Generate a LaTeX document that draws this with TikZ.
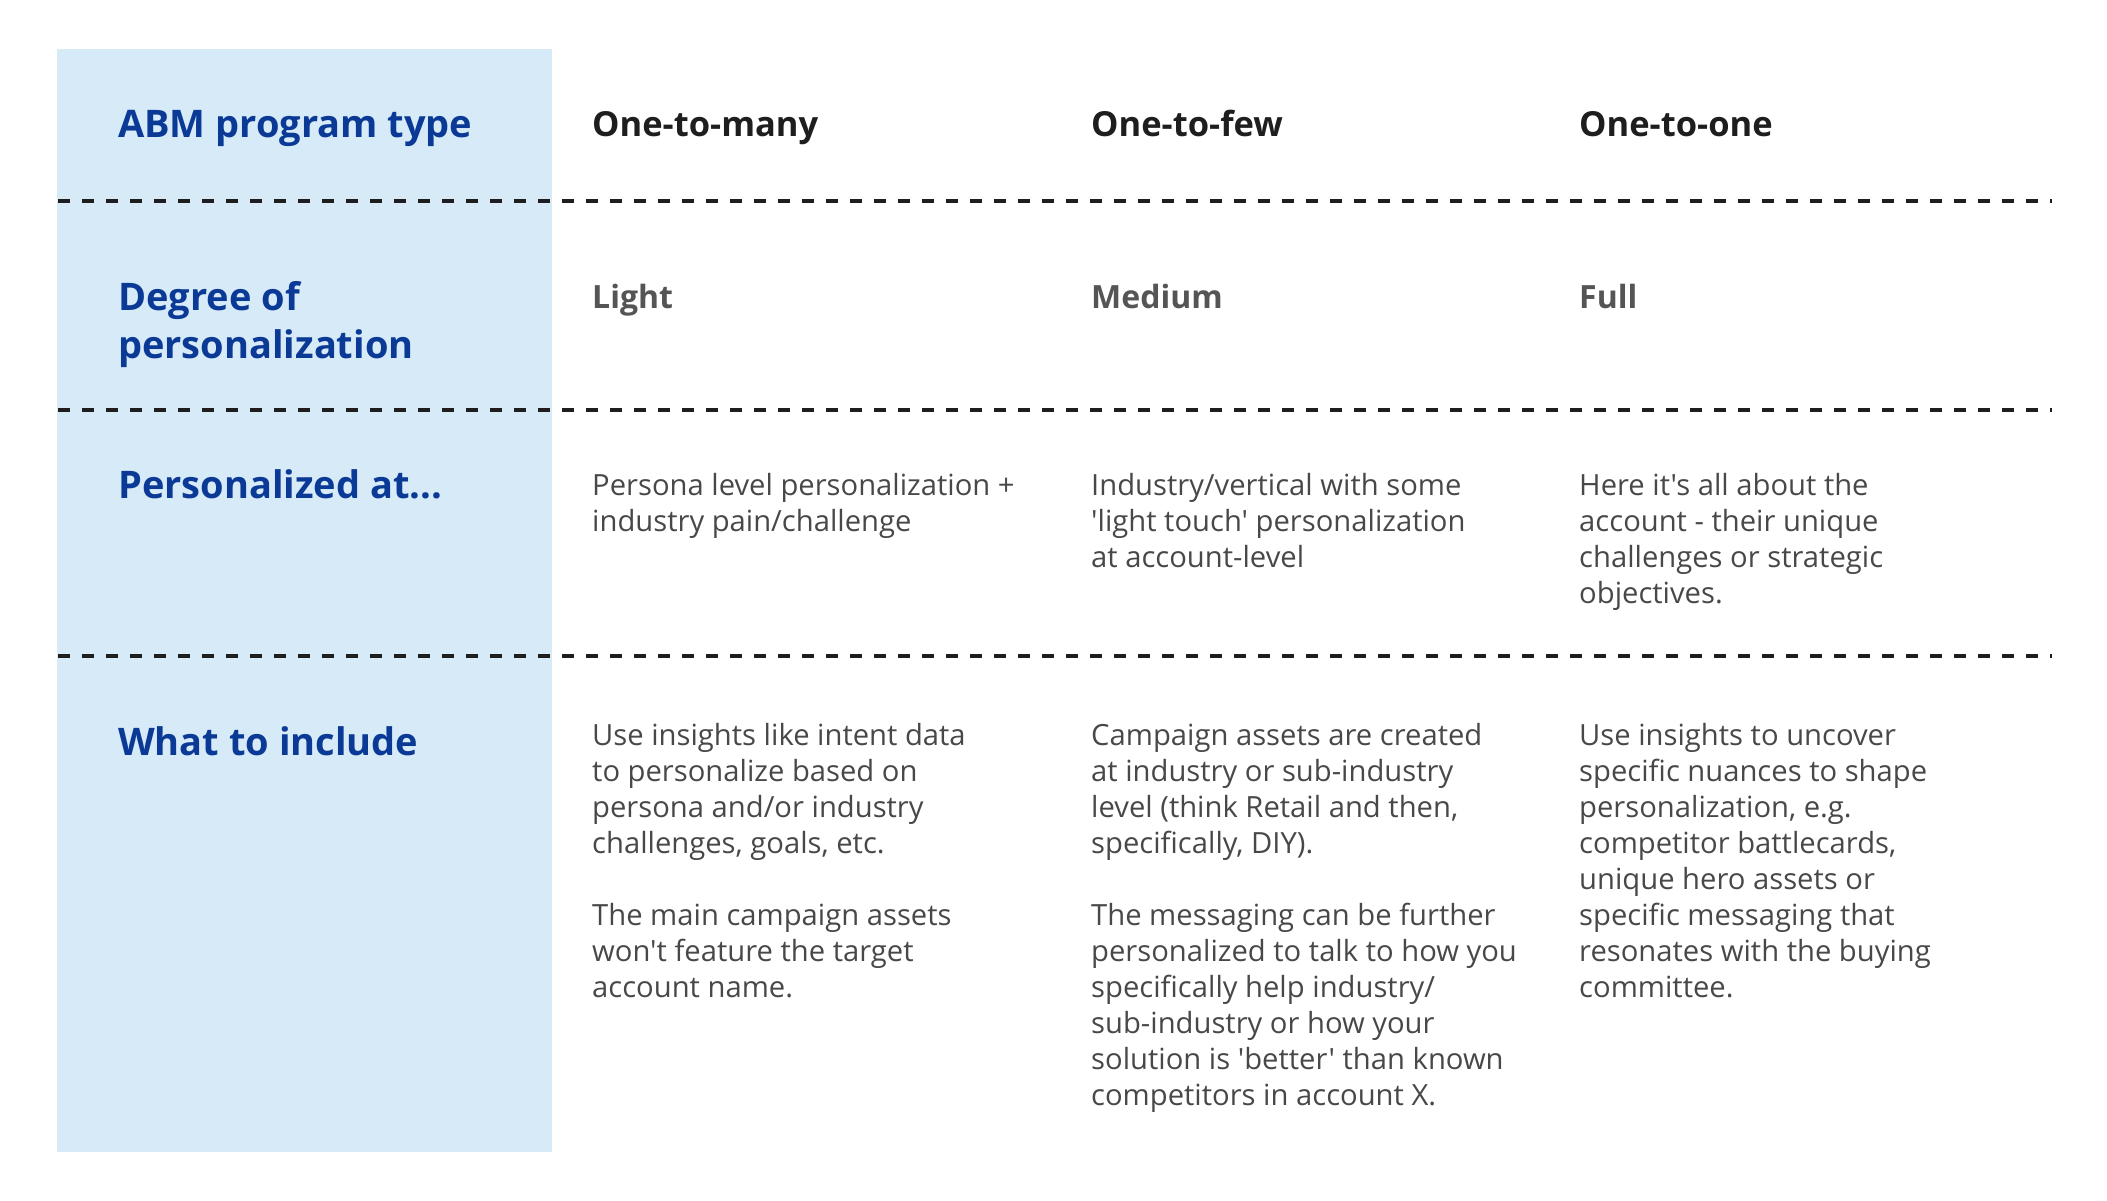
\documentclass[tikz,border=0pt]{standalone}
\usepackage{fontspec}
\setmainfont{Open Sans}[Ligatures=TeXOff]
\definecolor{colfill}{RGB}{214,234,248}
\definecolor{headblue}{RGB}{11,57,150}
\definecolor{bodygray}{RGB}{72,72,72}
\definecolor{headblack}{RGB}{30,30,30}
\definecolor{levelgray}{RGB}{85,85,85}
% first line of a cell sits on the node's baseline
\newcommand{\cellbox}[1]{\parbox[t]{600pt}{#1}}
\tikzset{
  rowhead/.style={anchor=base west, inner sep=0pt, text=headblue,
    font=\fontsize{38}{48}\selectfont\bfseries},
  colhead/.style={anchor=base west, inner sep=0pt, text=headblack,
    font=\fontsize{34.5}{40}\selectfont\bfseries},
  level/.style={anchor=base west, inner sep=0pt, text=levelgray,
    font=\fontsize{32}{40}\selectfont\bfseries},
  cell/.style={anchor=base west, inner sep=0pt, text=bodygray,
    font=\fontsize{29.2}{36}\selectfont},
  sep/.style={draw=headblack, line width=4pt, dash pattern=on 12pt off 12pt}
}
\begin{document}
\begin{tikzpicture}[x=1pt,y=-1pt]
      \useasboundingbox (0,0) rectangle (2107,1201);
      \fill[colfill] (57,49) rectangle (552,1152);
      % separators
      \draw[sep] (58,201.5) -- (2052,201.5);
      \draw[sep] (58,410) -- (2052,410);
      \draw[sep] (58,656) -- (2052,656);
      % row headings
      \node[rowhead] (type) at (118,138) {ABM program type};
      \node[rowhead] (degree) at (118,310) {\cellbox{Degree of\\personalization}};
      \node[rowhead] (at) at (118,498) {Personalized at...};
      \node[rowhead] (include) at (118,755) {What to include};
      % program types
      \node[colhead] (many) at (592,137) {One-to-many};
      \node[colhead] (few) at (1091,137) {One-to-few};
      \node[colhead] (one) at (1579,137) {One-to-one};
      % degree
      \node[level] (light) at (592,308) {Light};
      \node[level] (medium) at (1091,308) {Medium};
      \node[level] (full) at (1579,308) {Full};
      % personalized at
      \node[cell] (atmany) at (592,495)
        {\cellbox{Persona level personalization +\\industry pain/challenge}};
      \node[cell] (atfew) at (1091,495)
        {\cellbox{Industry/vertical with some\\'light touch' personalization\\at account-level}};
      \node[cell] (atone) at (1579,495)
        {\cellbox{Here it's all about the\\account - their unique\\challenges or strategic\\objectives.}};
      % what to include
      \node[cell] (incmany) at (592,745)
        {\cellbox{Use insights like intent data\\to personalize based on\\persona and/or industry\\challenges, goals, etc.\\[36pt]The main campaign assets\\won't feature the target\\account name.}};
      \node[cell] (incfew) at (1091,745)
        {\cellbox{Campaign assets are created\\at industry or sub-industry\\level (think Retail and then,\\specifically, DIY).\\[36pt]The messaging can be further\\personalized to talk to how you\\specifically help industry/\\sub-industry or how your\\solution is 'better' than known\\competitors in account X.}};
      \node[cell] (incone) at (1579,745)
        {\cellbox{Use insights to uncover\\specific nuances to shape\\personalization, e.g.\\competitor battlecards,\\unique hero assets or\\specific messaging that\\resonates with the buying\\committee.}};
    \end{tikzpicture}
\end{document}
